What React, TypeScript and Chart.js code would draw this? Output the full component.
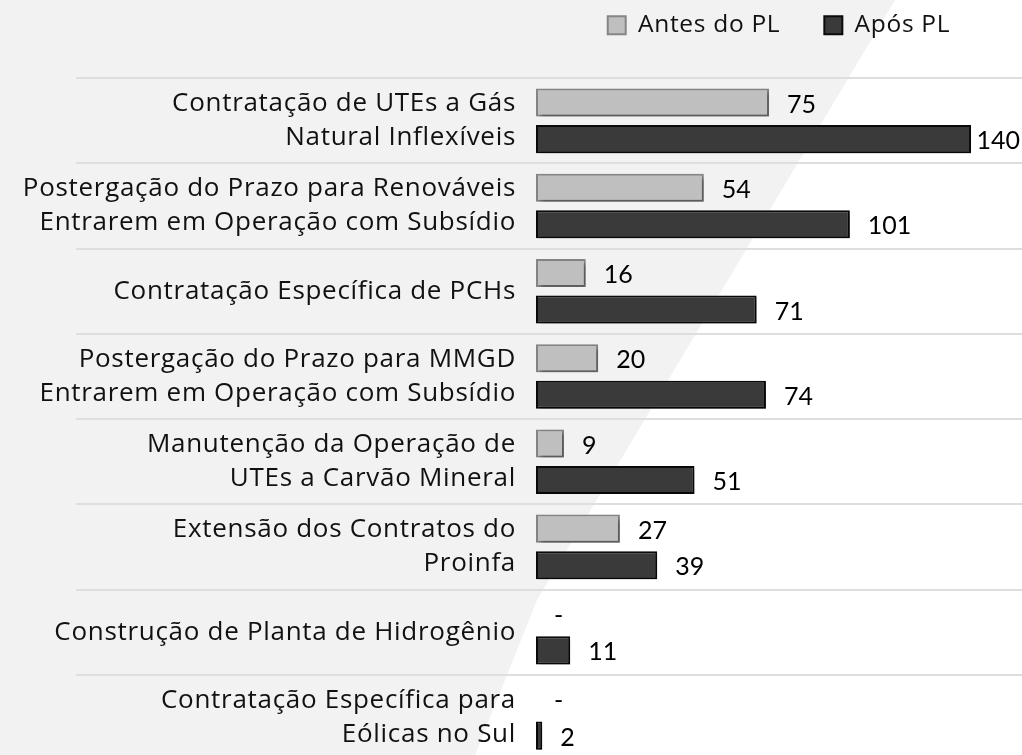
import React, { useEffect, useRef } from "react";
import { Chart, registerables } from "chart.js";

Chart.register(...registerables);

const categories: (string | string[])[] = [
  ["Contratação de UTEs a Gás", "Natural Inflexíveis"],
  ["Postergação do Prazo para Renováveis", "Entrarem em Operação com Subsídio"],
  "Contratação Específica de PCHs",
  ["Postergação do Prazo para MMGD", "Entrarem em Operação com Subsídio"],
  ["Manutenção da Operação de", "UTEs a Carvão Mineral"],
  ["Extensão dos Contratos do", "Proinfa"],
  "Construção de Planta de Hidrogênio",
  ["Contratação Específica para", "Eólicas no Sul"],
];

const antesDoPL: (number | null)[] = [75, 54, 16, 20, 9, 27, null, null];
const aposPL: (number | null)[] = [140, 101, 71, 74, 51, 39, 11, 2];

const seriesNames = ["Antes do PL", "Após PL"];

const W = 1022;
const H = 760;
const LABEL_FONT = "Open Sans";
const VALUE_FONT = "Lato";

const backgroundPlugin = {
  id: "bgDiag",
  beforeDraw(chart: any) {
    const ctx = chart.ctx;
    ctx.save();
    ctx.fillStyle = "#f2f2f2";
    ctx.fillRect(0, 0, chart.width, chart.height);
    ctx.fillStyle = "#ffffff";
    ctx.beginPath();
    ctx.moveTo(895, 0);
    ctx.lineTo(chart.width, 0);
    ctx.lineTo(chart.width, chart.height);
    ctx.lineTo(473, chart.height);
    ctx.lineTo(537, 600);
    ctx.closePath();
    ctx.fill();
    ctx.restore();
  },
};

// slightly wider text spacing to match the reference's wide UI font
const SPACING = "0.7px";
const spacingPlugin = {
  id: "textSpacing",
  beforeUpdate(chart: any) {
    chart.ctx.letterSpacing = SPACING;
  },
  beforeLayout(chart: any) {
    chart.ctx.letterSpacing = SPACING;
  },
  beforeDraw(chart: any) {
    chart.ctx.letterSpacing = SPACING;
  },
};

const shadowPlugin = {
  id: "barShadow",
  beforeDatasetsDraw(chart: any) {
    const ctx = chart.ctx;
    ctx.save();
    ctx.shadowColor = "rgba(0,0,0,0.35)";
    ctx.shadowOffsetX = 3;
    ctx.shadowOffsetY = 3;
    ctx.shadowBlur = 4;
  },
  afterDatasetsDraw(chart: any) {
    chart.ctx.restore();
  },
};

const valueLabelPlugin = {
  id: "valueLabels",
  afterDatasetsDraw(chart: any) {
    const ctx = chart.ctx;
    const xScale = chart.scales.x;
    ctx.save();
    ctx.letterSpacing = "0px";
    ctx.font = `25px "${VALUE_FONT}"`;
    ctx.fillStyle = "#000000";
    ctx.textBaseline = "middle";
    ctx.textAlign = "left";
    chart.data.datasets.forEach((ds: any, di: number) => {
      const meta = chart.getDatasetMeta(di);
      meta.data.forEach((el: any, i: number) => {
        const v = ds.data[i];
        const text = v == null ? "-" : String(v);
        const end = xScale.getPixelForValue(v == null ? 0 : v);
        const tw = ctx.measureText(text).width;
        const x = Math.min(end + 18, chart.width - tw - 2);
        ctx.fillText(text, x, el.y + 2);
      });
    });
    ctx.restore();
  },
};

export default function App() {
  const ref = useRef<HTMLCanvasElement | null>(null);

  useEffect(() => {
    document.body.style.margin = "0";
    const canvas = ref.current;
    if (!canvas) return;
    let chart: any = null;
    let cancelled = false;

    const build = () => {
      if (cancelled) return;
      chart = new Chart(canvas, {
        type: "bar",
        data: {
          labels: categories,
          datasets: [
            {
              label: seriesNames[0],
              data: antesDoPL,
              backgroundColor: "#bfbfbf",
              borderColor: "#858585",
              borderWidth: 2,
              borderSkipped: false,
            },
            {
              label: seriesNames[1],
              data: aposPL,
              backgroundColor: "#3a3a3a",
              borderColor: "#0a0a0a",
              borderWidth: 2,
              borderSkipped: false,
            },
          ],
        },
        options: {
          indexAxis: "y",
          responsive: false,
          animation: false,
          devicePixelRatio: 1,
          categoryPercentage: 0.857,
          barPercentage: 0.77,
          layout: { padding: { top: -31, left: 0, right: 0, bottom: 0 } },
          plugins: {
            tooltip: { enabled: false },
            legend: {
              display: true,
              position: "top",
              align: "center",
              fullSize: false,
              labels: {
                boxWidth: 18,
                boxHeight: 18,
                padding: 44,
                color: "#111111",
                font: { family: LABEL_FONT, size: 24.5 },
              },
            },
          },
          scales: {
            x: {
              position: "top",
              min: 0,
              max: 156.4,
              display: true,
              grid: { display: false, drawTicks: false },
              border: { display: false },
              ticks: { display: false },
              afterFit: (axis: any) => {
                axis.height = 30.7;
              },
            },
            y: {
              grid: {
                display: true,
                offset: true,
                color: "#dedede",
                lineWidth: 2,
                drawTicks: true,
                tickLength: 460,
              },
              border: { display: false },
              ticks: {
                autoSkip: false,
                padding: -440,
                color: "#111111",
                font: { family: LABEL_FONT, size: 26, lineHeight: 1.31 },
              },
              afterFit: (axis: any) => {
                axis.width = 536;
              },
            },
          },
        },
        plugins: [backgroundPlugin, spacingPlugin, shadowPlugin, valueLabelPlugin],
      });
    };

    const fontsApi: any = (document as any).fonts;
    if (fontsApi && fontsApi.load) {
      Promise.all([
        fontsApi.load(`24px "${LABEL_FONT}"`),
        fontsApi.load(`25px "${VALUE_FONT}"`),
      ])
        .catch(() => null)
        .then(build);
    } else {
      build();
    }

    return () => {
      cancelled = true;
      if (chart) chart.destroy();
    };
  }, []);

  return (
    <div
      style={{
        position: "fixed",
        left: 0,
        top: 0,
        width: W,
        height: 755,
        overflow: "hidden",
      }}
    >
      <canvas ref={ref} width={W} height={H} style={{ display: "block" }} />
    </div>
  );
}
